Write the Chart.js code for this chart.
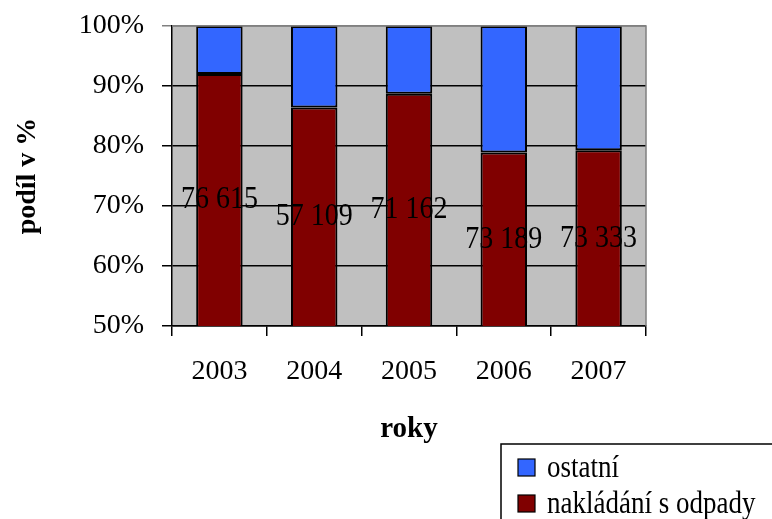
<!DOCTYPE html>
<html>
<head>
<meta charset="utf-8">
<script src="https://cdn.jsdelivr.net/npm/chart.js@4.4.1/dist/chart.umd.min.js"></script>
<style>
  html, body { margin: 0; padding: 0; background: #ffffff; }
  #wrap { position: relative; width: 772px; height: 519px; }
</style>
</head>
<body>
<div id="wrap"><canvas id="c" width="772" height="519"></canvas></div>
<script>
const years = ['2003', '2004', '2005', '2006', '2007'];
const nakladaniPct = [92.0, 86.4, 88.7, 78.9, 79.3];
const ostatniPct = [8.0, 13.6, 11.3, 21.1, 20.7];
const nakladaniLabels = ['76 615', '57 109', '71 162', '73 189', '73 333'];
const seriesNames = ['nakládání s odpady', 'ostatní'];
const yTickLabels = { 50: '50%', 60: '60%', 70: '70%', 80: '80%', 90: '90%', 100: '100%' };

const FONT = '"Liberation Serif", "Times New Roman", serif';
const RED = '#800000';
const BLUE = '#3366FF';

const plotBg = {
  id: 'plotBg',
  beforeDraw(chart) {
    const { ctx, chartArea: a } = chart;
    ctx.save();
    ctx.fillStyle = '#C0C0C0';
    ctx.fillRect(a.left, a.top, a.right - a.left, a.bottom - a.top);
    ctx.restore();
  },
  afterDraw(chart) {
    const { ctx, chartArea: a } = chart;
    ctx.save();
    ctx.strokeStyle = '#808080';
    ctx.lineWidth = 1.5;
    ctx.beginPath();
    ctx.moveTo(a.left, a.top);
    ctx.lineTo(a.right, a.top);
    ctx.lineTo(a.right, a.bottom);
    ctx.stroke();
    ctx.restore();
  }
};

const valueLabels = {
  id: 'valueLabels',
  afterDatasetsDraw(chart) {
    const { ctx } = chart;
    const meta = chart.getDatasetMeta(0);
    const yScale = chart.scales.y;
    ctx.save();
    ctx.fillStyle = '#000';
    ctx.font = '28px ' + FONT;
    ctx.textAlign = 'center';
    ctx.textBaseline = 'middle';
    meta.data.forEach((bar, i) => {
      const mid = (yScale.min + nakladaniPct[i]) / 2;
      const y = yScale.getPixelForValue(mid);
      ctx.save();
      ctx.translate(bar.x, y);
      ctx.scale(1, 1.15);
      ctx.fillText(nakladaniLabels[i], 0, 0);
      ctx.restore();
    });
    ctx.restore();
  }
};

const boxLegend = {
  id: 'boxLegend',
  afterDraw(chart) {
    const { ctx } = chart;
    const ds = chart.data.datasets;
    ctx.save();
    ctx.strokeStyle = '#000';
    ctx.lineWidth = 1.5;
    ctx.strokeRect(501, 444, 300, 100);
    const rows = [ds[1], ds[0]];
    const baselines = [477, 513];
    ctx.font = '27px ' + FONT;
    ctx.textAlign = 'left';
    ctx.textBaseline = 'alphabetic';
    rows.forEach((d, i) => {
      const b = baselines[i];
      ctx.fillStyle = d.backgroundColor;
      ctx.fillRect(518, b - 18, 17, 17);
      ctx.lineWidth = 1.2;
      ctx.strokeRect(518, b - 18, 17, 17);
      ctx.fillStyle = '#000';
      ctx.save();
      ctx.translate(547, b);
      ctx.scale(1, 1.15);
      ctx.fillText(d.label, 0, 0);
      ctx.restore();
    });
    ctx.restore();
  }
};

new Chart(document.getElementById('c'), {
  type: 'bar',
  data: {
    labels: years,
    datasets: [
      { label: seriesNames[0], data: nakladaniPct, backgroundColor: RED, borderColor: '#000', borderWidth: 2, borderSkipped: false },
      { label: seriesNames[1], data: ostatniPct, backgroundColor: BLUE, borderColor: '#000', borderWidth: 2, borderSkipped: false }
    ]
  },
  options: {
    responsive: false,
    animation: false,
    devicePixelRatio: 1,
    layout: { padding: { left: 0, right: 126, top: 26, bottom: 0 } },
    datasets: { bar: { categoryPercentage: 1.0, barPercentage: 0.49 } },
    plugins: { legend: { display: false }, tooltip: { enabled: false }, title: { display: false } },
    scales: {
      x: {
        stacked: true,
        afterFit(s) { s.height = 193; s.paddingLeft = 0; s.paddingRight = 0; },
        grid: { display: true, drawOnChartArea: false, drawTicks: true, tickLength: 10, color: '#000', lineWidth: 1.5 },
        border: { display: true, color: '#000', width: 1.5 },
        ticks: { color: '#000', font: { family: FONT, size: 28 }, padding: 19 },
        title: { display: true, text: 'roky', color: '#000', font: { family: FONT, size: 29, weight: 'bold' }, padding: { top: 0, bottom: 72 } }
      },
      y: {
        stacked: true,
        min: 50,
        max: 100,
        afterFit(s) { s.width = 172; s.paddingTop = 0; s.paddingBottom = 0; },
        grid: {
          color: (c) => (c.tick && c.tick.value === 100 ? '#808080' : '#000'),
          lineWidth: 1.5,
          drawTicks: true,
          tickLength: 10
        },
        border: { display: true, color: '#000', width: 1.5 },
        ticks: {
          stepSize: 10,
          color: '#000',
          font: { family: FONT, size: 28 },
          padding: 18,
          callback: (v) => yTickLabels[v]
        },
        title: { display: true, text: 'podíl v %', color: '#000', font: { family: FONT, size: 28, weight: 'bold' }, padding: { top: 11, bottom: 0 } }
      }
    }
  },
  plugins: [plotBg, valueLabels, boxLegend]
});
</script>
</body>
</html>
